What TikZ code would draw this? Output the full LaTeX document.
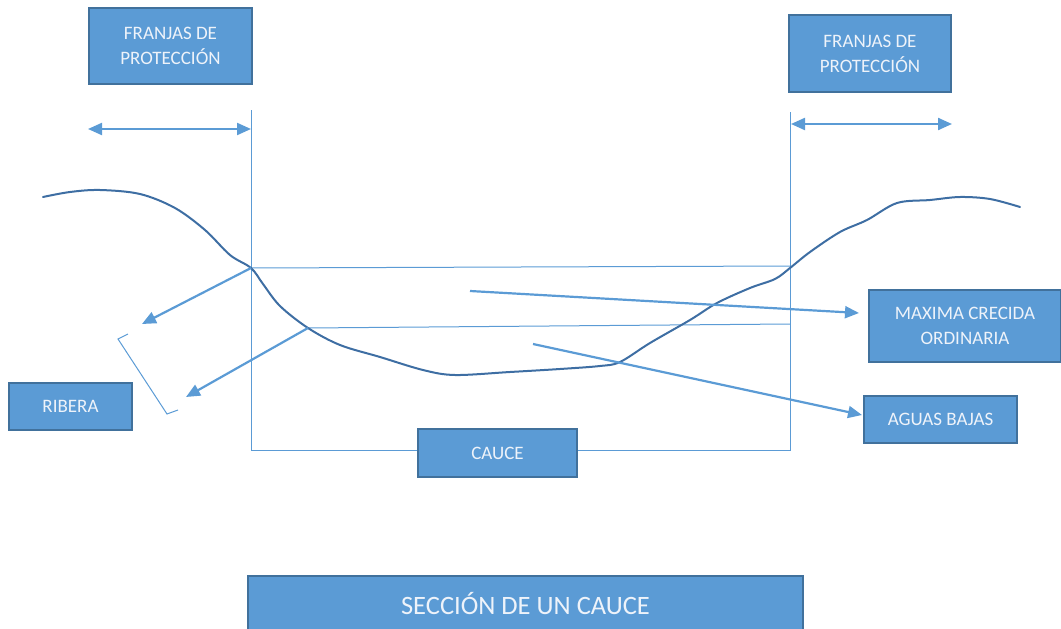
\documentclass[tikz,border=0pt]{standalone}
\usepackage{fontspec}
\setmainfont{Carlito}
\usetikzlibrary{arrows.meta}
\definecolor{cajaazul}{HTML}{5B9BD5}
\definecolor{bordeazul}{HTML}{41719C}
\definecolor{terreno}{HTML}{3E6EA3}
\definecolor{letra}{HTML}{EEF3FA}

\begin{document}
\begin{tikzpicture}[x=1pt,y=-1pt,
    etiqueta/.style={draw=bordeazul,line width=1.6pt,fill=cajaazul,text=letra,
        font=\fontsize{19}{25}\selectfont,align=center,inner sep=0pt},
    guia/.style={draw=cajaazul,line width=1pt},
    flecha/.style={draw=cajaazul,line width=2.2pt,-{Triangle[length=14pt,width=12pt]}},
    doble/.style={draw=cajaazul,line width=2.2pt,{Triangle[length=14pt,width=12pt]}-{Triangle[length=14pt,width=12pt]}}]
    \useasboundingbox (0,0) rectangle (1061,629);

    \coordinate (cima-izq) at (251,268);
    \coordinate (cima-der) at (790,266);
    \coordinate (bajo-izq) at (308,328);
    \coordinate (bajo-der) at (790,324);

    \draw[guia] (251,110) -- (251,450) -- (790,450) -- (790,112);
    \draw[guia] (cima-izq) -- (cima-der);
    \draw[guia] (bajo-izq) -- (bajo-der);
    \draw[guia] (128,334) -- (118,339) -- (167,414) -- (178,410);

    \draw[terreno,line width=2pt,line cap=round] plot[smooth,tension=0.55] coordinates {
        (43,197) (70,192) (100,190) (140,194) (175,208) (205,230) (230,255)
        (251,268) (263,284) (280,306) (308,328) (340,345) (380,357) (423,370)
        (455,375) (510,372) (560,369) (600,366) (620,362) (650,343) (690,320)
        (717,303) (750,288) (775,279) (790,268) (810,252) (840,232) (867,220)
        (897,203) (930,200) (960,197) (990,199) (1020,207)};

    \node[etiqueta,minimum width=163pt,minimum height=76pt] (franja-izq) at (170.5,46) {FRANJAS DE\\PROTECCIÓN};
    \node[etiqueta,minimum width=162pt,minimum height=77pt] (franja-der) at (870,53.5) {FRANJAS DE\\PROTECCIÓN};
    \node[etiqueta,minimum width=123pt,minimum height=47pt] (ribera) at (70.5,406.5) {RIBERA};
    \node[etiqueta,minimum width=159pt,minimum height=48pt] (cauce) at (497.5,453) {CAUCE};
    \node[etiqueta,minimum width=192pt,minimum height=72pt] (maxima) at (965,326) {MAXIMA CRECIDA\\ORDINARIA};
    \node[etiqueta,minimum width=153pt,minimum height=47pt] (aguas) at (940.5,419.5) {AGUAS BAJAS};
    \node[etiqueta,minimum width=555pt,minimum height=56pt,font=\fontsize{26.5}{30}\selectfont] (seccion) at (525.5,604) {SECCIÓN DE UN CAUCE};

    \coordinate (franja-izq-ini) at (88,129);
    \coordinate (franja-izq-fin) at (251,129);
    \coordinate (franja-der-ini) at (791,124);
    \coordinate (franja-der-fin) at (952,124);
    \coordinate (ribera-sup) at (142,324);
    \coordinate (ribera-inf) at (186,397);
    \coordinate (maxima-ini) at (470,291);
    \coordinate (maxima-fin) at (859,313);
    \coordinate (aguas-ini) at (533,344);
    \coordinate (aguas-fin) at (862,415);

    \draw[doble] (franja-izq-ini) -- (franja-izq-fin);
    \draw[doble] (franja-der-ini) -- (franja-der-fin);
    \draw[flecha] (cima-izq) -- (ribera-sup);
    \draw[flecha] (bajo-izq) -- (ribera-inf);
    \draw[flecha] (maxima-ini) -- (maxima-fin);
    \draw[flecha] (aguas-ini) -- (aguas-fin);

\end{tikzpicture}
\end{document}
